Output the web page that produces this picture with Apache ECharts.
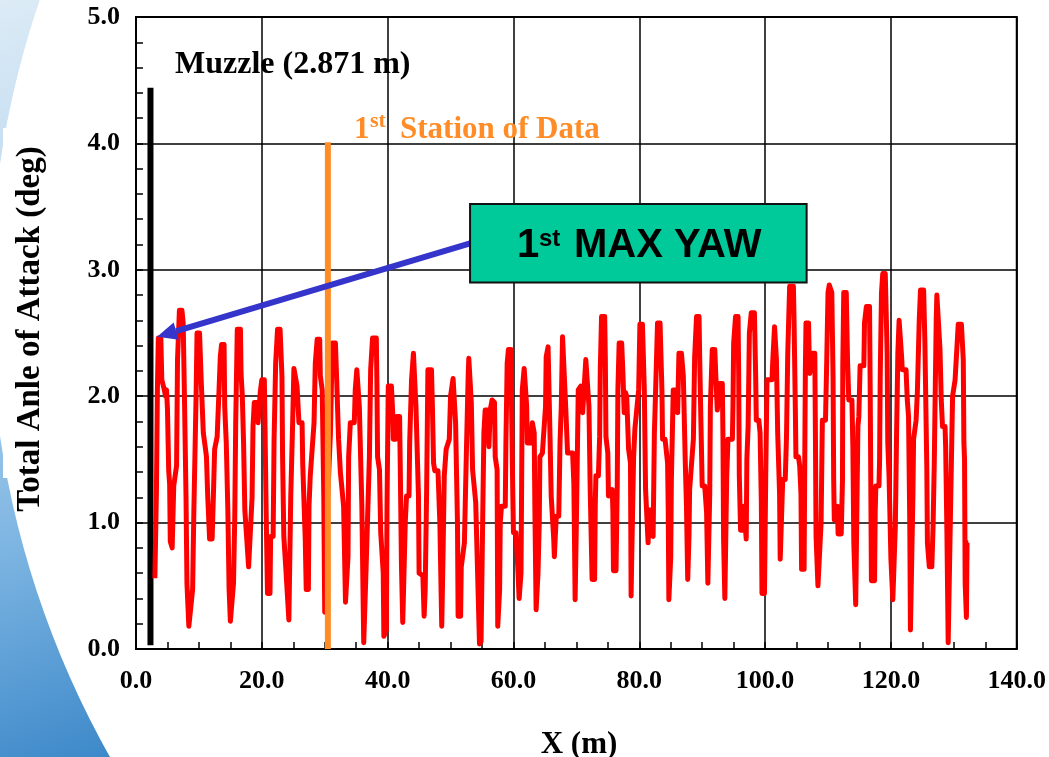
<!DOCTYPE html>
<html>
<head>
<meta charset="utf-8">
<script src="https://cdn.jsdelivr.net/npm/echarts@6/dist/echarts.min.js"></script>
<style>
html,body{margin:0;padding:0;background:#fff;}
#c{width:1049px;height:757px;}
</style>
</head>
<body>
<div id="c"></div>
<script>
// ---- data (x in m, total angle of attack in deg) ----
const seg00_18 = [[3.0,0.56],[3.25,1.26],[3.4,2.05],[3.55,2.46],[3.95,2.46],[4.1,2.13],[4.5,2.05],[4.7,2.0],[4.85,2.05],[5.0,1.9],[5.2,1.41],[5.35,1.3],[5.45,0.85],[5.75,0.8],[6.0,1.29],[6.45,1.45],[6.6,2.29],[6.9,2.68],[7.3,2.68],[7.5,2.58],[7.7,2.0],[7.95,1.21],[8.1,0.52],[8.4,0.18],[8.7,0.18],[9.0,0.47],[9.2,1.1],[9.55,2.0],[9.7,2.5],[10.1,2.5],[10.4,2.08],[10.7,1.71],[11.0,1.6],[11.2,1.52],[11.4,1.21],[11.7,0.87],[12.1,0.87],[12.3,1.21],[12.5,1.58],[12.9,1.68],[13.2,2.05],[13.4,2.31],[13.6,2.41],[14.0,2.41],[14.1,1.92],[14.35,1.63],[14.6,1.1],[14.8,0.47],[15.0,0.22],[15.2,0.22],[15.5,0.52],[15.7,1.05],[15.85,1.79],[16.1,2.53],[16.6,2.53],[16.7,2.18],[16.9,2.0],[17.1,1.63],[17.3,1.1],[17.9,0.65]];
const seg18_36 = [[18.2,0.65],[18.45,1.2],[18.6,1.76],[18.8,1.95],[19.3,1.95],[19.4,1.79],[19.75,2.03],[20.0,2.13],[20.4,2.13],[20.5,1.79],[20.7,1.05],[20.9,0.44],[21.3,0.44],[21.4,0.89],[21.8,0.89],[21.95,1.66],[22.2,2.26],[22.5,2.53],[22.9,2.53],[23.2,2.16],[23.3,1.52],[23.5,0.89],[23.8,0.65],[24.1,0.65],[24.3,0.23],[24.6,1.21],[24.9,1.79],[25.1,2.22],[25.4,2.22],[25.6,2.08],[25.9,1.79],[26.4,1.79],[26.5,1.47],[26.9,0.87],[27.06,0.47],[27.4,0.47],[27.5,1.13],[27.7,1.37],[28.0,1.37],[28.3,1.79],[28.5,2.26],[28.8,2.45],[29.2,2.45],[29.3,2.16],[29.6,2.05],[29.85,1.21],[30.0,0.29],[30.3,1.0],[30.9,1.7],[31.2,2.42],[31.7,2.42],[31.9,2.13],[32.2,1.66],[32.5,1.39],[33.0,1.13],[33.3,0.37],[33.5,0.37],[33.7,0.73],[33.8,1.52],[34.07,1.79],[34.7,1.79],[34.85,2.05],[35.1,2.21],[35.4,2.21],[35.5,1.92],[35.9,1.13],[36.2,0.05],[36.5,0.05]];
const seg36_55 = [[36.6,0.68],[36.9,0.68],[37.1,1.52],[37.3,2.21],[37.6,2.46],[38.2,2.46],[38.3,2.08],[38.4,1.52],[38.7,1.42],[38.9,0.92],[39.2,0.92],[39.3,0.6],[39.4,0.1],[39.8,0.15],[39.9,1.13],[40.1,2.08],[40.6,2.08],[40.8,1.87],[40.9,1.66],[41.3,1.66],[41.44,1.84],[41.9,1.84],[42.0,1.47],[42.2,0.65],[42.4,0.21],[42.8,1.0],[43.0,1.21],[43.4,1.21],[43.5,1.63],[43.8,2.13],[44.1,2.34],[44.3,2.34],[44.5,1.92],[44.9,1.21],[45.0,0.6],[45.6,0.58],[45.8,0.26],[45.97,0.47],[46.2,1.26],[46.4,2.21],[46.97,2.21],[47.1,1.95],[47.3,1.47],[47.5,1.41],[48.0,1.41],[48.3,1.0],[48.6,0.18],[48.8,0.73],[49.0,1.37],[49.3,1.58],[49.6,1.58],[49.8,1.66],[50.0,2.0],[50.4,2.14],[50.7,2.14],[50.8,1.79],[51.1,1.0],[51.2,0.26],[51.6,0.26],[51.7,0.65],[52.0,0.65],[52.2,0.84],[52.5,1.52],[52.8,2.16],[52.9,2.3],[53.3,1.95],[53.5,1.42],[54.0,1.16],[54.6,0.04],[54.85,0.06]];
const seg55_73 = [[55.1,1.0],[55.3,1.71],[55.5,1.89],[55.9,1.89],[56.1,1.6],[56.3,1.89],[56.6,1.97],[56.98,1.95],[57.1,1.52],[57.4,1.42],[57.5,0.18],[57.8,0.47],[57.9,1.0],[58.1,1.13],[58.7,1.13],[58.8,1.63],[59.0,2.26],[59.2,2.37],[59.6,2.37],[59.7,1.92],[59.9,1.21],[60.0,0.92],[60.4,0.92],[60.7,0.63],[60.9,0.4],[61.2,0.6],[61.3,1.31],[61.4,2.05],[61.7,2.22],[62.0,2.22],[62.1,1.92],[62.2,1.63],[62.8,1.63],[63.0,1.79],[63.3,1.71],[63.4,1.13],[63.6,0.31],[63.8,0.31],[63.9,0.6],[64.1,1.0],[64.2,1.52],[64.6,1.55],[64.9,1.55],[65.1,1.92],[65.2,2.31],[65.5,2.39],[65.7,2.39],[65.8,1.71],[66.0,1.21],[66.4,0.87],[66.5,0.73],[66.8,1.05],[67.2,1.05],[67.4,1.63],[67.6,1.92],[67.8,2.47],[68.1,2.47],[68.3,1.92],[68.6,1.55],[69.4,1.55],[69.6,1.31],[69.7,0.87],[69.8,0.39],[70.0,1.0],[70.3,2.05],[70.7,2.08],[71.0,1.87],[71.3,1.87],[71.5,2.29],[71.8,2.29],[72.0,1.92],[72.2,1.26],[72.5,0.55],[72.9,0.55]];
const seg73_91 = [[73.0,1.13],[73.1,1.37],[73.5,1.37],[73.7,1.68],[73.8,2.21],[74.0,2.63],[74.5,2.63],[74.6,2.31],[74.7,1.68],[75.0,1.55],[75.1,1.21],[75.7,1.26],[75.8,1.1],[75.9,0.62],[76.3,0.62],[76.5,1.31],[76.6,2.05],[76.8,2.42],[77.2,2.42],[77.4,2.18],[77.6,1.87],[77.8,2.03],[78.0,2.0],[78.3,1.58],[78.6,1.47],[78.7,0.42],[78.8,0.73],[79.1,1.52],[79.3,1.74],[79.6,1.74],[79.9,2.05],[80.1,2.57],[80.5,2.57],[80.8,2.05],[81.0,1.26],[81.4,0.84],[81.6,1.1],[82.1,1.1],[82.2,0.89],[82.4,1.71],[82.6,2.05],[82.9,2.58],[83.3,2.58],[83.6,2.05],[83.7,1.66],[84.1,1.66],[84.5,1.47],[84.6,1.1],[84.7,0.39],[85.0,0.73],[85.1,1.34],[85.4,2.05],[85.8,2.05],[86.1,1.87],[86.3,2.34],[86.7,2.34],[87.0,2.16],[87.3,1.5],[87.5,1.13],[87.7,0.55],[87.9,0.89],[88.0,1.26],[88.3,1.26],[88.6,1.66],[88.8,2.31],[89.1,2.63],[89.5,2.63],[89.6,2.31],[89.8,1.79],[90.0,1.29],[90.4,1.29],[90.7,1.08],[90.9,0.52]];
const seg91_109 = [[91.2,1.23],[91.3,1.92],[91.6,2.37],[92.0,2.37],[92.15,2.18],[92.4,1.89],[92.7,1.89],[92.8,2.1],[93.2,2.1],[93.3,1.68],[93.4,0.87],[93.6,0.4],[93.8,0.4],[93.9,1.37],[94.1,1.66],[94.8,1.66],[94.9,1.95],[95.0,2.42],[95.3,2.63],[95.7,2.63],[95.8,2.18],[95.9,1.37],[96.1,0.94],[96.5,0.94],[96.6,1.13],[96.9,1.13],[97.0,0.87],[97.1,1.5],[97.3,1.76],[97.5,2.5],[97.8,2.66],[98.3,2.66],[98.5,2.16],[98.6,1.81],[99.0,1.81],[99.2,1.71],[99.4,1.16],[99.5,0.44],[99.9,0.44],[100.1,1.37],[100.3,2.13],[101.1,2.13],[101.2,2.26],[101.5,2.55],[101.7,2.55],[101.8,2.29],[102.0,1.71],[102.3,1.23],[102.4,0.71],[102.7,0.71],[102.8,1.34],[103.2,1.34],[103.4,1.68],[103.6,2.34],[103.9,2.87],[104.5,2.87],[104.6,2.6],[104.8,1.92],[104.9,1.52],[105.3,1.52],[105.5,1.45],[105.7,1.23],[105.8,0.63],[106.2,0.63],[106.3,1.45],[106.4,2.21],[106.5,2.58],[106.9,2.58],[107.0,2.34],[107.1,2.18],[107.4,2.18],[107.5,2.34],[107.9,2.34],[108.0,1.68],[108.1,0.89],[108.4,0.5],[108.7,0.5]];
const seg109_133 = [[108.9,1.0],[109.1,1.81],[109.6,1.81],[109.8,2.29],[110.0,2.82],[110.2,2.88],[110.6,2.82],[110.8,2.16],[110.9,1.34],[111.0,1.02],[111.4,1.02],[111.5,1.13],[111.6,0.91],[112.1,0.91],[112.3,1.34],[112.35,2.24],[112.5,2.82],[112.9,2.82],[113.1,2.29],[113.3,1.97],[113.8,1.97],[113.95,1.6],[114.1,0.84],[114.4,0.35],[114.7,0.35],[114.75,1.76],[114.9,1.84],[115.1,2.24],[115.7,2.24],[115.8,2.58],[116.1,2.71],[116.6,2.71],[116.7,2.08],[116.8,1.31],[116.9,0.54],[117.4,0.54],[117.5,1.08],[117.6,1.29],[118.1,1.29],[118.2,1.5],[118.3,2.16],[118.5,2.82],[118.7,2.97],[119.1,2.97],[119.4,2.34],[119.5,1.63],[119.7,1.37],[119.9,1.37],[120.0,0.71],[120.3,0.39],[120.5,0.39],[120.7,0.97],[120.9,1.71],[121.1,2.34],[121.3,2.6],[121.5,2.6],[121.7,2.31],[121.8,2.21],[122.4,2.21],[122.6,1.97],[122.8,1.84],[123.0,0.97],[123.1,0.15],[123.4,0.15],[123.5,1.23],[123.6,1.66],[124.0,1.81],[124.2,2.03],[124.4,2.03],[124.5,2.6],[124.7,2.84],[125.2,2.84],[125.4,2.42],[125.7,1.45],[125.8,0.84],[126.1,0.65],[126.5,0.65],[126.7,0.97],[126.9,1.5],[127.0,1.89],[127.2,2.6],[127.3,2.8],[127.6,2.8],[127.8,2.37],[128.0,1.97],[128.2,1.76],[128.6,1.76],[128.7,1.6],[128.9,0.92],[129.1,0.05],[129.4,0.05],[129.6,1.45],[129.8,2.0],[130.2,2.13],[130.5,2.13],[130.7,2.57],[131.2,2.57],[131.5,2.29],[131.6,1.63],[131.7,1.5],[131.8,0.52],[132.0,0.25],[132.1,0.84],[132.3,0.84]];
const yawTrace = [].concat(seg00_18, seg18_36, seg36_55, seg55_73, seg73_91, seg91_109, seg109_133);

// reference markers (data space)
const muzzleLine = [[2.3, 0.03], [2.3, 4.44]];
const stationLine = [[30.5, 0.0], [30.5, 4.01]];
const arrowTip = [3.35, 2.47];
const arrowTail = [53.1, 3.21];
const yawBoxCorners = [[53.1, 3.52], [106.6, 2.9]];

// texts
const yAxisTitle = 'Total Anle of Attack (deg)';
const xAxisTitle = 'X (m)';
const muzzleLabel = 'Muzzle (2.871 m)';
const stationLabel = ['1', 'st', 'Station of Data'];
const yawLabel = ['1', 'st', 'MAX YAW'];

const serif = '"Liberation Serif", "Times New Roman", serif';
const sans = '"Liberation Sans", Arial, sans-serif';

const chart = echarts.init(document.getElementById('c'), null, {renderer: 'canvas'});

const axisCommon = {
  type: 'value',
  axisLine: {show: true, lineStyle: {color: '#000', width: 2}},
  axisTick: {show: true, inside: true, length: 7, lineStyle: {color: '#000', width: 1.5}},
  minorTick: {show: true, length: 7, lineStyle: {color: '#000', width: 1.5}},
  splitLine: {show: true, lineStyle: {color: '#000', width: 1.5}},
  axisLabel: {color: '#000', fontFamily: serif, fontWeight: 'bold', fontSize: 26, formatter: v => v.toFixed(1)}
};

chart.setOption({
  animation: false,
  grid: {left: 136, right: 27, top: 17, bottom: 108, show: true, borderColor: '#000', borderWidth: 2, backgroundColor: 'transparent'},
  xAxis: echarts.util.merge({min: 0, max: 140, interval: 20, minorTick: {splitNumber: 4}, axisLabel: {margin: 19}}, axisCommon),
  yAxis: echarts.util.merge({min: 0, max: 5, interval: 1, minorTick: {splitNumber: 5}, axisLabel: {margin: 16}}, axisCommon),
  series: [
    {type: 'line', data: muzzleLine, symbol: 'none', z: 3, lineStyle: {color: '#000', width: 6}},
    {type: 'line', data: yawTrace, symbol: 'none', z: 4, lineStyle: {color: '#ff0000', width: 5, join: 'round'}},
    {type: 'line', data: stationLine, symbol: 'none', z: 5, lineStyle: {color: '#ff8c26', width: 6}}
  ]
});

function px(pt) { return chart.convertToPixel({gridIndex: 0}, pt); }
const tip = px(arrowTip), tail = px(arrowTail);
const b0 = px(yawBoxCorners[0]), b1 = px(yawBoxCorners[1]);
const dx = tip[0] - tail[0], dy = tip[1] - tail[1];
const len = Math.sqrt(dx * dx + dy * dy);
const ux = dx / len, uy = dy / len;
const headLen = 20, headHalf = 9;
const base = [tip[0] - ux * headLen, tip[1] - uy * headLen];
const headPts = [tip, [base[0] - uy * headHalf, base[1] + ux * headHalf], [base[0] + uy * headHalf, base[1] - ux * headHalf]];

chart.setOption({
  graphic: [
    // slide background
    {type: 'rect', z: -20, silent: true, shape: {x: 0, y: 0, width: 1049, height: 757},
      style: {fill: new echarts.graphic.LinearGradient(0, 0, 0.25, 1, [
        {offset: 0, color: '#dcebf6'}, {offset: 0.35, color: '#b4d4ee'},
        {offset: 0.65, color: '#7db5e2'}, {offset: 1, color: '#2f7fc4'}])}},
    {type: 'circle', z: -19, silent: true, shape: {cx: 920, cy: 300, r: 930}, style: {fill: '#ffffff'}},
    {type: 'rect', z: -18, silent: true, shape: {x: 3, y: 128, width: 140, height: 350}, style: {fill: '#ffffff'}},
    // axis titles
    {type: 'text', z: 50, x: 30, y: 329, rotation: Math.PI / 2,
      style: {text: yAxisTitle, fill: '#000', font: 'bold 33px ' + serif, textAlign: 'center', textVerticalAlign: 'middle'}},
    {type: 'text', z: 50, x: 579, y: 745,
      style: {text: xAxisTitle, fill: '#000', font: 'bold 31px ' + serif, textAlign: 'center', textVerticalAlign: 'middle'}},
    // muzzle label
    {type: 'text', z: 50, x: 175, y: 65,
      style: {text: muzzleLabel, fill: '#000', font: 'bold 32px ' + serif, textAlign: 'left', textVerticalAlign: 'middle'}},
    // station label
    {type: 'text', z: 50, x: 354, y: 130,
      style: {text: stationLabel[0], fill: '#ff8c26', font: 'bold 31px ' + serif, textAlign: 'left', textVerticalAlign: 'middle'}},
    {type: 'text', z: 50, x: 370, y: 121,
      style: {text: stationLabel[1], fill: '#ff8c26', font: 'bold 22px ' + serif, textAlign: 'left', textVerticalAlign: 'middle'}},
    {type: 'text', z: 50, x: 400, y: 130,
      style: {text: stationLabel[2], fill: '#ff8c26', font: 'bold 31px ' + serif, textAlign: 'left', textVerticalAlign: 'middle'}},
    // arrow
    {type: 'line', z: 60, silent: true, shape: {x1: tail[0], y1: tail[1], x2: base[0], y2: base[1]},
      style: {stroke: '#3535cc', lineWidth: 6}},
    {type: 'polygon', z: 60, silent: true, shape: {points: headPts}, style: {fill: '#3535cc'}},
    // box
    {type: 'rect', z: 70, silent: true,
      shape: {x: b0[0], y: b0[1], width: b1[0] - b0[0], height: b1[1] - b0[1]},
      style: {fill: '#00c99a', stroke: '#111', lineWidth: 2}},
    {type: 'text', z: 71, x: 517, y: 246,
      style: {text: yawLabel[0], fill: '#000', font: 'bold 40px ' + sans, textAlign: 'left', textVerticalAlign: 'middle'}},
    {type: 'text', z: 71, x: 539, y: 239,
      style: {text: yawLabel[1], fill: '#000', font: 'bold 24px ' + sans, textAlign: 'left', textVerticalAlign: 'middle'}},
    {type: 'text', z: 71, x: 574, y: 246,
      style: {text: yawLabel[2], fill: '#000', font: 'bold 40px ' + sans, textAlign: 'left', textVerticalAlign: 'middle'}}
  ]
});
</script>
</body>
</html>
